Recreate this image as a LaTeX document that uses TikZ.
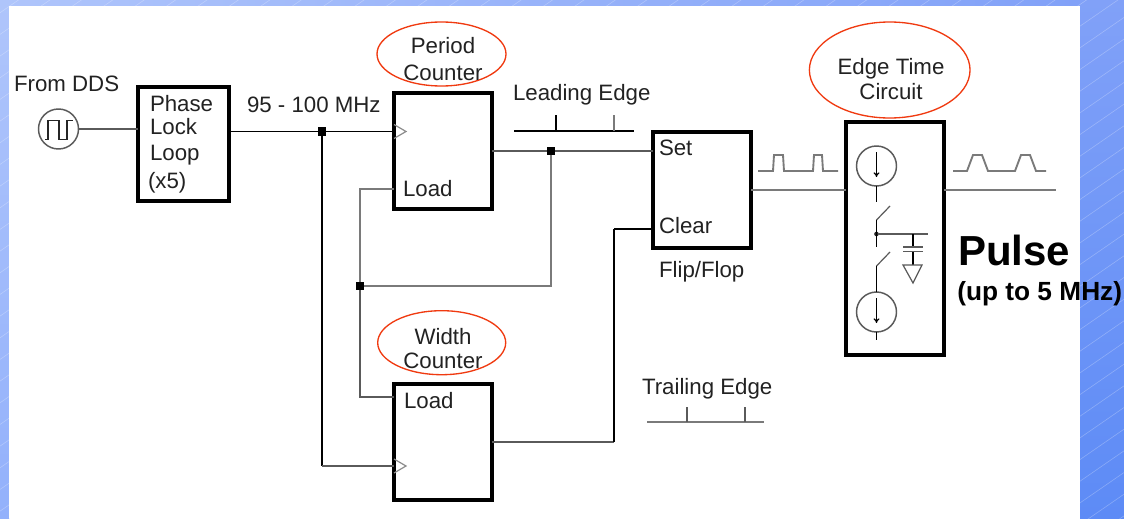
\documentclass[tikz,border=0pt]{standalone}
\usepackage{fontspec}
\setmainfont{Liberation Sans}
\usetikzlibrary{shapes.geometric,arrows.meta}
\definecolor{ink}{HTML}{222222}
\definecolor{wiregray}{HTML}{5A5A5A}
\definecolor{lightwire}{HTML}{7A7A7A}
\definecolor{redring}{HTML}{F03A10}
\definecolor{bgtl}{HTML}{AFC5FB}
\definecolor{bgtr}{HTML}{81A1F8}
\definecolor{bgbl}{HTML}{93B1FB}
\definecolor{bgbr}{HTML}{5D8BF6}
\tikzset{
  x=0.75pt,y=-0.75pt,
  boxnode/.style={draw=black,line width=2.3pt,fill=white,inner sep=0pt,outer sep=0pt},
  wire/.style={draw=black,line width=1.2pt},
  graywire/.style={draw=wiregray,line width=1.3pt},
  lightline/.style={draw=lightwire,line width=1.5pt},
  lab/.style={anchor=base west,inner sep=0pt,outer sep=0pt,text=ink,font=\fontsize{16.7}{18}\selectfont},
  clab/.style={lab,anchor=base},
  dotnode/.style={fill=black,inner sep=0pt,outer sep=0pt,minimum size=6.5pt,rectangle},
  ring/.style={ellipse,draw=redring,line width=1pt,inner sep=0pt,outer sep=0pt},
  srcnode/.style={circle,draw=wiregray,line width=1.1pt,inner sep=0pt,outer sep=0pt,minimum size=30pt},
  finewire/.style={draw=black,line width=.9pt},
  clocktip/.style={draw=gray!90,line width=.9pt},
}
\begin{document}
\begin{tikzpicture}
\useasboundingbox (0,0) rectangle (1124,518);
% background strips
\shade[top color=bgtl,bottom color=bgbl] (0,0) rectangle (9,518);
\shade[left color=bgtl,right color=bgtr] (0,0) rectangle (1080,6);
\shade[top color=bgtr,bottom color=bgbr] (1080,0) rectangle (1124,518);
\begin{scope}
\clip (0,0) rectangle (1124,518);
\foreach \k in {-2,...,62}{
  \draw[white,opacity=.26,line width=.45pt] (0,{34.4+21.67*\k}) -- (1124,{-741+21.67*\k});
}
\end{scope}
\fill[white] (9,6) rectangle (1080,518);

% boxes
\node[boxnode,minimum width=68.25pt,minimum height=85.5pt] (pll) at (183.5,144) {};
\node[boxnode,minimum width=73.5pt,minimum height=87pt] (period) at (443,151) {};
\node[boxnode,minimum width=73.5pt,minimum height=87pt] (widthc) at (443,442) {};
\node[boxnode,minimum width=73.5pt,minimum height=87pt] (ff) at (702,190) {};
\node[boxnode,line width=3.1pt,minimum width=73.5pt,minimum height=174.75pt] (edge) at (895,238.5) {};

% source
\node[srcnode] (src) at (58.5,129) {};
\draw[black!85,line width=1.3pt] (45,139.5) -- (48,139.5) -- (48,120.5) -- (59,120.5) -- (59,139.5) -- (67,139.5) -- (67,120.5) -- (73,120.5);

% named connection points
\coordinate (pllin) at (pll.west |- src);
\coordinate (pllout) at (229,131.5);
\coordinate (pck) at (394,131.5);
\coordinate (pload) at (394,189);
\coordinate (pout) at (492,151);
\coordinate (fset) at (653,151);
\coordinate (fclr) at (653,229);
\coordinate (fout) at (751,190);
\coordinate (ein) at (846,190);
\coordinate (eout) at (944,190);
\coordinate (pulseend) at (1056,190);
\coordinate (wload) at (394,397);
\coordinate (wck) at (394,466);
\coordinate (wout) at (492,442);
\coordinate (clrbend) at (614,442);
\coordinate (clrtop) at (614,229);
\coordinate (ckbend) at (322,466);

% junctions
\node[dotnode] (j1) at (322,131.5) {};
\node[dotnode] (j2) at (551,151) {};
\node[dotnode] (j3) at (360,286) {};

% connectors
\draw[graywire,line width=.9pt] (src) -- (pllin);
\draw[wire] (pllout) -- (j1) -- (pck);
\draw[wire,line width=1.3pt] (j1) -- (ckbend);
\draw[graywire,line width=1.2pt] (ckbend) -- (wck);
\draw[graywire] (pout) -- (j2) -- (fset);
\draw[lightline] (j2) |- (j3);
\draw[lightline] (j3) |- (pload);
\draw[graywire] (j3) |- (wload);
\draw[graywire,line width=1.2pt] (wout) -- (clrbend);
\draw[wire,line width=1.6pt] (clrbend) -- (clrtop);
\draw[wire] (clrtop) -- (fclr);
\draw[lightline] (fout) -- (ein);
\draw[lightline] (eout) -- (pulseend);

% clock triangles
\draw[clocktip] (394,124.5) -- (406,131.5) -- (394,138.5);
\draw[clocktip] (394,459) -- (406,466) -- (394,473);

% leading edge
\draw[wire,line width=1pt] (514,131) -- (634,131);
\draw[wire,line width=.9pt] (556,115) -- (556,131);
\draw[lightline,line width=1.4pt] (613.7,115) -- (613.7,131);
% trailing edge
\draw[lightline] (647,422) -- (764,422);
\draw[graywire,line width=.9pt] (687,407) -- (687,422);
\draw[graywire,line width=.9pt] (745,407) -- (745,422);

% waveforms
\draw[lightline,line width=1.4pt] (758,171) -- (773,171) -- (774,155) -- (783,155) -- (784,171) -- (813,171) -- (814,155) -- (822,155) -- (823,171) -- (838,171);
\draw[lightline,line width=1.4pt] (953,171) -- (967,171) -- (973,155) -- (982,155) -- (988,171) -- (1015,171) -- (1021,155) -- (1030,155) -- (1036,171) -- (1046,171);

% edge-time circuit
\node[srcnode] (cs1) at (876.5,166) {};
\node[srcnode] (cs2) at (876.5,312) {};
\draw[finewire,-{To[length=3.5pt,width=4.5pt]}] (876.5,152) -- (876.5,177);
\draw[finewire,-{To[length=3.5pt,width=4.5pt]}] (876.5,298) -- (876.5,323);
\coordinate (s1a) at (876.5,202);
\coordinate (s1b) at (876.5,220);
\coordinate (s1c) at (890,206);
\coordinate (s2a) at (876.5,266);
\coordinate (s2b) at (890,252);
\coordinate (s2c) at (876.5,247);
\node[fill=black!85,circle,inner sep=0pt,minimum size=3.5pt] (j4) at (876.5,234) {};
\coordinate (capw) at (928,234);
\coordinate (capt) at (913,234);
\coordinate (capu) at (913,247);
\coordinate (capl) at (913,251.5);
\coordinate (capb) at (913,265);
\draw[finewire] (cs1) -- (s1a);
\draw[finewire,draw=wiregray] (s1b) -- (s1c);
\draw[finewire] (s1b) -- (s2c);
\draw[finewire,draw=wiregray] (s2a) -- (s2b);
\draw[finewire] (s2a) -- (cs2);
\draw[finewire] (cs2) -- (876.5,340);
\draw[graywire,line width=1.3pt] (j4) -- (capw);
\draw[finewire,line width=1.3pt] (capt) -- (capu);
\draw[finewire,line width=1.3pt] (capl) -- (capb);
\draw[graywire,line width=1.2pt] (903,247) -- (923,247);
\draw[graywire,line width=1.2pt] (903,251.5) -- (923,251.5);
\draw[graywire,line width=.9pt] (903,265) -- (922,265) -- (913,283) -- cycle;

% ellipses
\node[ring,minimum width=96.75pt,minimum height=48pt] (r1) at (441.5,54) {};
\node[ring,minimum width=96pt,minimum height=48pt] (r2) at (441.7,342.7) {};
\node[ring,minimum width=120.5pt,minimum height=72pt] (r3) at (889.7,70) {};

% labels
\node[lab] (tdds) at (14,91) {From DDS};
\node[lab] (t1) at (150,111) {Phase};
\node[lab] (t2) at (150,134) {Lock};
\node[lab] (t3) at (150,160) {Loop};
\node[lab] (t4) at (148,188) {(x5)};
\node[lab] (t5) at (247,112) {95 - 100 MHz};
\node[clab] (t6) at (443,53) {Period};
\node[clab] (t7) at (443,80) {Counter};
\node[lab] (t8) at (403,196) {Load};
\node[lab] (t9) at (513,100) {Leading Edge};
\node[lab] (t10) at (659,155) {Set};
\node[lab] (t11) at (659,233) {Clear};
\node[lab] (t12) at (659,277) {Flip/Flop};
\node[clab] (t13) at (443,344) {Width};
\node[clab] (t14) at (443,368) {Counter};
\node[lab] (t15) at (404,408) {Load};
\node[lab] (t16) at (642,394) {Trailing Edge};
\node[clab] (t17) at (891,74) {Edge Time};
\node[clab] (t18) at (891,99) {Circuit};
\node[anchor=base west,inner sep=0pt,text=black,font=\fontsize{31.5}{34}\bfseries\selectfont] (t19) at (958,265) {Pulse};
\node[anchor=base west,inner sep=0pt,text=black,font=\fontsize{19.7}{22}\bfseries\selectfont] (t20) at (957,300) {(up to 5 MHz)};
\end{tikzpicture}
\end{document}
